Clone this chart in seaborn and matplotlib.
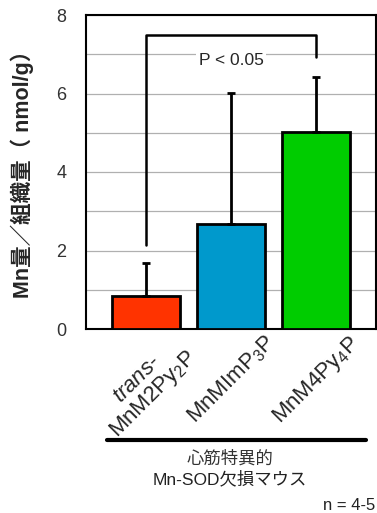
import numpy as np
import pandas as pd
import seaborn as sns
import matplotlib.pyplot as plt

# === DATA ===
groups = ["trans-MnM2Py2P", "MnMImP3P", "MnM4Py4P"]
tick_labels = [r"$\mathit{trans}$-" + "\n" + r"$\mathrm{MnM2Py_2P}$",
               r"$\mathrm{MnMImP_3P}$", r"$\mathrm{MnM4Py_4P}$"]
means = [0.85, 2.67, 5.02]
sd_up = [0.83, 3.34, 1.40]
colors = ["#FF3300", "#0099CC", "#00CC00"]

df = pd.DataFrame({"group": groups, "value": means})

sns.set_theme(style="white")
plt.rcParams["font.family"] = ["Liberation Sans", "Noto Sans CJK JP", "DejaVu Sans"]
plt.rcParams["mathtext.fontset"] = "custom"
plt.rcParams["mathtext.rm"] = "Liberation Sans"
plt.rcParams["mathtext.it"] = "Liberation Sans:italic"

fig = plt.figure(figsize=(3.77, 5.13), dpi=100)
ax = fig.add_axes([86 / 377, 1 - 329 / 513, 290 / 377, 314 / 513])

sns.barplot(data=df, x="group", y="value", hue="group", palette=colors, saturation=1,
            width=0.8, edgecolor="black", linewidth=2, legend=False, ax=ax, zorder=3)

xpos = np.arange(len(groups))
ax.errorbar(xpos, means, yerr=[np.zeros(3), sd_up], fmt="none", ecolor="black",
            elinewidth=2, capsize=3, capthick=2, zorder=4)

ax.set_ylim(0, 8)
ax.set_xlim(-0.7, 2.7)
ax.set_yticks([0, 2, 4, 6, 8])
ax.set_yticks(np.arange(0, 9, 1), minor=True)
ax.yaxis.grid(True, which="both", color="#b0b0b0", linewidth=0.9, zorder=0)
ax.set_axisbelow(True)
for s in ax.spines.values():
    s.set_color("black")
    s.set_linewidth(1.5)
ax.tick_params(axis="y", which="both", length=0, labelsize=13, pad=14, colors="#333333")
ax.tick_params(axis="x", length=0, pad=2)

ax.set_xticks(xpos)
ax.set_xticklabels(tick_labels, rotation=45, ha="center", va="top",
                   fontsize=16, linespacing=1.0)
ax.set_xlabel("")
ax.set_ylabel("Mn量／組織量（ nmol/g）", fontsize=15.5, fontweight="bold")
ax.yaxis.set_label_coords(-0.18, 0.51)

# significance bracket
ax.plot([0, 0, 2, 2], [2.15, 7.5, 7.5, 6.93], color="black", lw=1.8, zorder=5)
ax.text(1, 6.83, "P < 0.05", ha="center", va="center", fontsize=12.5,
        bbox=dict(facecolor="white", edgecolor="none", pad=2), zorder=6)

# group annotation below
fig.add_artist(plt.Line2D([107 / 377, 366 / 377], [1 - 440 / 513] * 2, color="black", lw=3))
fig.text(230 / 377, 1 - 458 / 513, "心筋特異的", ha="center", va="center", fontsize=12.5, color="#333333")
fig.text(230 / 377, 1 - 479 / 513, "Mn-SOD欠損マウス", ha="center", va="center", fontsize=12.5, color="#222222")
fig.text(375 / 377, 1 - 505 / 513, "n = 4-5", ha="right", va="center", fontsize=12, color="#222222")

fig.savefig("out.png", dpi=100)
